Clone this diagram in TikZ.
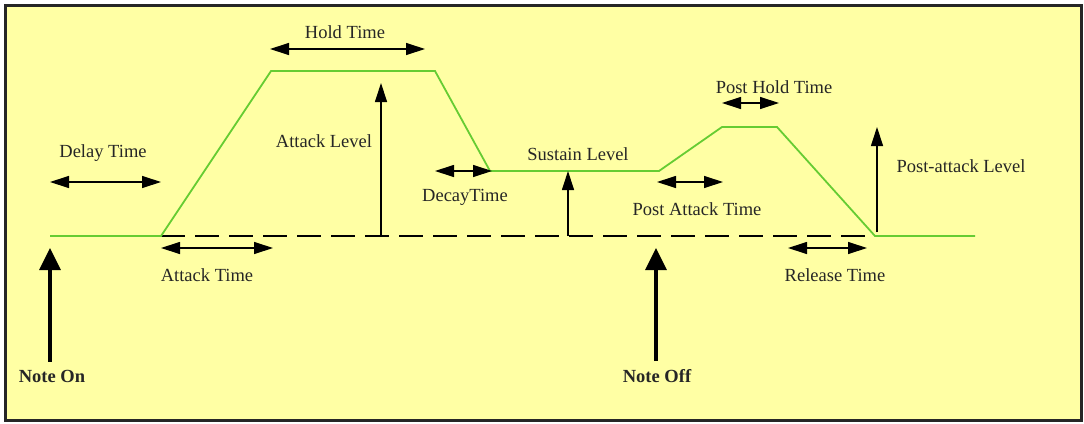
\documentclass[tikz,border=0pt]{standalone}
\usepackage{fontspec}
\setmainfont{Liberation Serif}
\usetikzlibrary{arrows.meta}
\definecolor{padyellow}{RGB}{255,255,164}
\definecolor{envgreen}{RGB}{102,204,51}
\tikzset{
  span/.style={{Triangle[length=19pt,width=12pt]}-{Triangle[length=19pt,width=12pt]},line width=1.2pt},
  rise/.style={-{Triangle[length=19pt,width=12pt]},line width=1.2pt},
  noteup/.style={-{Triangle[length=22pt,width=21pt]},line width=3.2pt},
  lbl/.style={font=\fontsize{18.5}{20}\selectfont,inner sep=0pt,text=black!85}
}
\begin{document}
\begin{tikzpicture}[x=1pt,y=-1pt]
  \useasboundingbox (0,0) rectangle (1084,423);
  \draw[line width=3pt,draw=black!85,fill=padyellow] (5,5) rectangle (1081,420);
  % envelope corners
  \coordinate (on)  at (50,236);
  \coordinate (a0)  at (161,236);
  \coordinate (a1)  at (271,71);
  \coordinate (h1)  at (435,71);
  \coordinate (d1)  at (490,171);
  \coordinate (s1)  at (659,171);
  \coordinate (p1)  at (722,127);
  \coordinate (p2)  at (777,127);
  \coordinate (r1)  at (875,236);
  \coordinate (off) at (975,236);
  \draw[line width=1.2pt,dash pattern=on 24pt off 10pt] (a0) -- (r1);
  \draw[envgreen,line width=1.8pt] (on) -- (a0) -- (a1) -- (h1) -- (d1) -- (s1)
    -- (p1) -- (p2) -- (r1) -- (off);
  % time spans
  \foreach \nm/\xa/\xb/\y in {hold/270/425/49, delay/50/161/182, decay/435/492/171,
      phold/722/779/103, patt/657/723/182, att/161/273/248, rel/788/867/248} {
    \coordinate (\nm-l) at (\xa,\y);
    \coordinate (\nm-r) at (\xb,\y);
    \draw[span] (\nm-l) -- (\nm-r);
  }
  % levels
  \foreach \nm/\x/\ya/\yb in {alev/381/236/83, slev/568/236/171, plev/877/232/127} {
    \coordinate (\nm-b) at (\x,\ya);
    \coordinate (\nm-t) at (\x,\yb);
    \draw[rise] (\nm-b) -- (\nm-t);
  }
  \node[lbl] (holdtxt)  at (345,32)  {Hold Time};
  \node[lbl] (delaytxt) at (103,153) {Delay Time};
  \node[lbl] (alevtxt)  at (324,141) {Attack Level};
  \node[lbl] (decaytxt) at (465,197) {DecayTime};
  \node[lbl] (slevtxt)  at (578,154) {Sustain Level};
  \node[lbl] (pholdtxt) at (774,87)  {Post Hold Time};
  \node[lbl] (patttxt)  at (697,209) {Post Attack Time};
  \node[lbl] (plevtxt)  at (961,166) {Post-attack Level};
  \node[lbl] (atttxt)   at (207,275) {Attack Time};
  \node[lbl] (reltxt)   at (835,275) {Release Time};
  % note events
  \node[lbl,font=\fontsize{18.5}{20}\selectfont\bfseries] (noteon)  at (52,376)  {Note On};
  \node[lbl,font=\fontsize{18.5}{20}\selectfont\bfseries] (noteoff) at (657,376) {Note Off};
  \coordinate (on-tip)  at (50,248);
  \coordinate (off-tip) at (656,248);
  \draw[noteup] (noteon.north -| on-tip) ++(0,-8) -- (on-tip);
  \draw[noteup] (noteoff.north -| off-tip) ++(0,-8) -- (off-tip);
\end{tikzpicture}
\end{document}
